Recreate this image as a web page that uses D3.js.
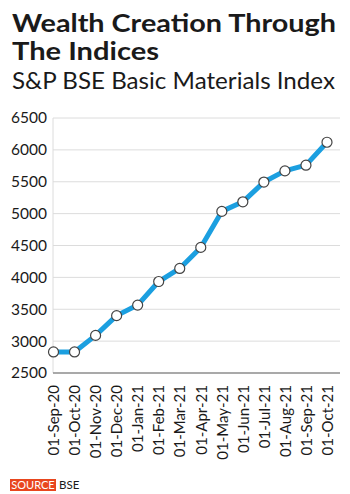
<!DOCTYPE html>
<html><head><meta charset="utf-8">
<script src="https://cdn.jsdelivr.net/npm/d3@7"></script>
<style>html,body{margin:0;padding:0;background:#fff;}svg{display:block;}</style>
</head><body>
<script>
const categories = ["01-Sep-20","01-Oct-20","01-Nov-20","01-Dec-20","01-Jan-21","01-Feb-21","01-Mar-21","01-Apr-21","01-May-21","01-Jun-21","01-Jul-21","01-Aug-21","01-Sep-21","01-Oct-21"];
const values = [2830, 2830, 3090, 3400, 3565, 3935, 4140, 4470, 5035, 5185, 5495, 5670, 5760, 6120];
const yTicks = [2500, 3000, 3500, 4000, 4500, 5000, 5500, 6000, 6500];
const title = ["Wealth Creation Through", "The Indices"];
const subtitle = "S&P BSE Basic Materials Index";

const W = 350, H = 494;
const svg = d3.select("body").append("svg").attr("width", W).attr("height", H);
const font = "Lato, 'Open Sans', sans-serif";

// titles
svg.append("text").attr("x", 12).attr("y", 32).attr("font-family", font).attr("font-weight", 700)
  .attr("font-size", 24).attr("fill", "#1a1a1a")
  .attr("textLength", 324).attr("lengthAdjust", "spacingAndGlyphs").text(title[0]);
svg.append("text").attr("x", 12).attr("y", 60).attr("font-family", font).attr("font-weight", 700)
  .attr("font-size", 24).attr("fill", "#1a1a1a")
  .attr("textLength", 147).attr("lengthAdjust", "spacingAndGlyphs").text(title[1]);
svg.append("text").attr("x", 12).attr("y", 89).attr("font-family", font).attr("font-weight", 400)
  .attr("font-size", 23).attr("fill", "#1a1a1a")
  .attr("textLength", 323).attr("lengthAdjust", "spacingAndGlyphs").text(subtitle);

const x = d3.scalePoint().domain(categories).range([53.5, 327]);
const y = d3.scaleLinear().domain([2500, 6500]).range([373, 118]);

// gridlines
svg.append("g").selectAll("line").data(yTicks.slice(1)).join("line")
  .attr("x1", 53).attr("x2", 340).attr("y1", d => y(d)).attr("y2", d => y(d))
  .attr("stroke", "#dcdcdc").attr("stroke-width", 1);
// y axis line
svg.append("line").attr("x1", 53).attr("x2", 53).attr("y1", y(6500)).attr("y2", y(2500))
  .attr("stroke", "#dcdcdc").attr("stroke-width", 1);

// y axis labels
const yAxis = d3.axisLeft(y).tickValues(yTicks).tickFormat(d3.format("d")).tickSize(0).tickPadding(6);
const gy = svg.append("g").attr("transform", "translate(53,0)").call(yAxis);
gy.select(".domain").remove();
gy.selectAll("text").attr("font-family", font).attr("font-size", 15.5).attr("fill", "#1a1a1a");

// x axis
const xAxis = d3.axisBottom(x).tickSize(0).tickPadding(0);
const gx = svg.append("g").attr("transform", "translate(0,373)").call(xAxis);
gx.select(".domain").remove();
gx.selectAll("text").attr("font-family", font).attr("font-size", 15).attr("fill", "#1a1a1a")
  .attr("transform", "rotate(-90)").attr("text-anchor", "end").attr("dy", "0.35em").attr("x", -12).attr("y", 0);
svg.append("line").attr("x1", 53).attr("x2", 340).attr("y1", 373).attr("y2", 373)
  .attr("stroke", "#8c8c8c").attr("stroke-width", 1.5);

// line
const line = d3.line().x((d, i) => x(categories[i])).y(d => y(d));
svg.append("path").datum(values).attr("d", line).attr("fill", "none")
  .attr("stroke", "#1b9fe0").attr("stroke-width", 5).attr("stroke-linejoin", "round");
svg.append("g").selectAll("circle").data(values).join("circle")
  .attr("cx", (d, i) => x(categories[i])).attr("cy", d => y(d)).attr("r", 5)
  .attr("fill", "#fff").attr("stroke", "#444").attr("stroke-width", 1.2);

// source
svg.append("rect").attr("x", 10).attr("y", 479).attr("width", 46).attr("height", 12).attr("fill", "#e8461e");
svg.append("text").attr("x", 33).attr("y", 489).attr("text-anchor", "middle").attr("font-family", font)
  .attr("font-size", 11).attr("fill", "#fff").text("SOURCE");
svg.append("text").attr("x", 59).attr("y", 489).attr("font-family", font)
  .attr("font-size", 11.5).attr("fill", "#1a1a1a").text("BSE");
</script>
</body></html>
